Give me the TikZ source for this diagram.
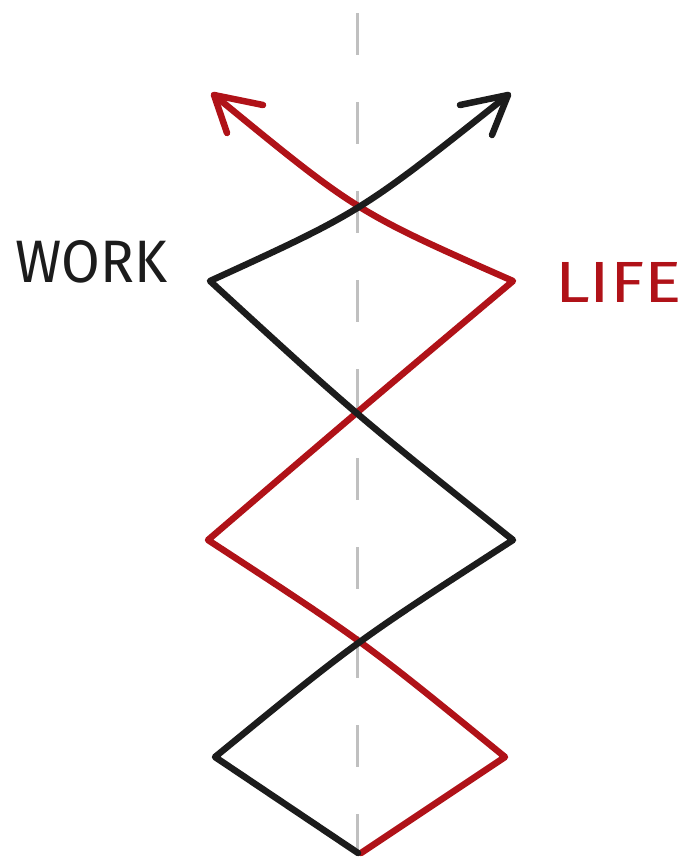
\documentclass[tikz,border=0pt]{standalone}
\usepackage{fontspec}
\setmainfont{Fira Sans}
\usetikzlibrary{calc}
\definecolor{lifered}{RGB}{176,18,24}
\definecolor{workblack}{RGB}{28,28,28}
\definecolor{axisgray}{RGB}{192,192,192}
\tikzset{
  workline/.style={draw=workblack, line width=6.5pt, line cap=round, line join=round},
  lifeline/.style={draw=lifered, line width=6.5pt, line cap=round, line join=round},
  axisline/.style={draw=axisgray, line width=3pt, dash pattern=on 42pt off 47pt},
  label/.style={inner sep=0pt, font=\mdseries}
}
\newcommand{\bend}[3]{.. controls ($2*(#2)-0.5*(#1)-0.5*(#3)$) .. (#3)}
\begin{document}
\begin{tikzpicture}[x=1pt, y=-1pt]
  \useasboundingbox (0,0) rectangle (684,857);
  % points
  \coordinate (BT) at (508,95);
  \coordinate (X1) at (360,200);
  \coordinate (WV) at (210,281);
  \coordinate (LV) at (513,281);
  \coordinate (X2) at (358,412);
  \coordinate (BR) at (513,540);
  \coordinate (RL) at (208,540);
  \coordinate (X3) at (360,645);
  \coordinate (BL) at (215,757);
  \coordinate (RR) at (505,757);
  \coordinate (BB) at (358,853);
  \coordinate (RB) at (361,853);
  \coordinate (RT) at (214,95);
  % dashed axis
  \coordinate (A0) at (357,13);
  \coordinate (A1) at (357,857);
  \draw[axisline] (A0) -- (A1);
  % life (red) path
  \draw[lifeline] (RT) \bend{RT}{X1}{LV} \bend{LV}{X2}{RL} \bend{RL}{X3}{RR} -- (RB);
  \coordinate (RBa) at (263,105);
  \coordinate (RBb) at (227,133);
  \draw[lifeline] (RBa) -- (RT) -- (RBb);
  % work (black) path
  \draw[workline] (BT) \bend{BT}{X1}{WV} \bend{WV}{X2}{BR} \bend{BR}{X3}{BL} -- (BB);
  \coordinate (BBa) at (460,105);
  \coordinate (BBb) at (492,135);
  \draw[workline] (BBa) -- (BT) -- (BBb);
  % labels
  \node[label, text=workblack, anchor=south west] (work) at (15,283) {\resizebox{152pt}{42pt}{WORK}};
  \node[label, text=lifered, anchor=south west] (life) at (555,303) {\resizebox{127pt}{40pt}{LIFE}};
\end{tikzpicture}
\end{document}
